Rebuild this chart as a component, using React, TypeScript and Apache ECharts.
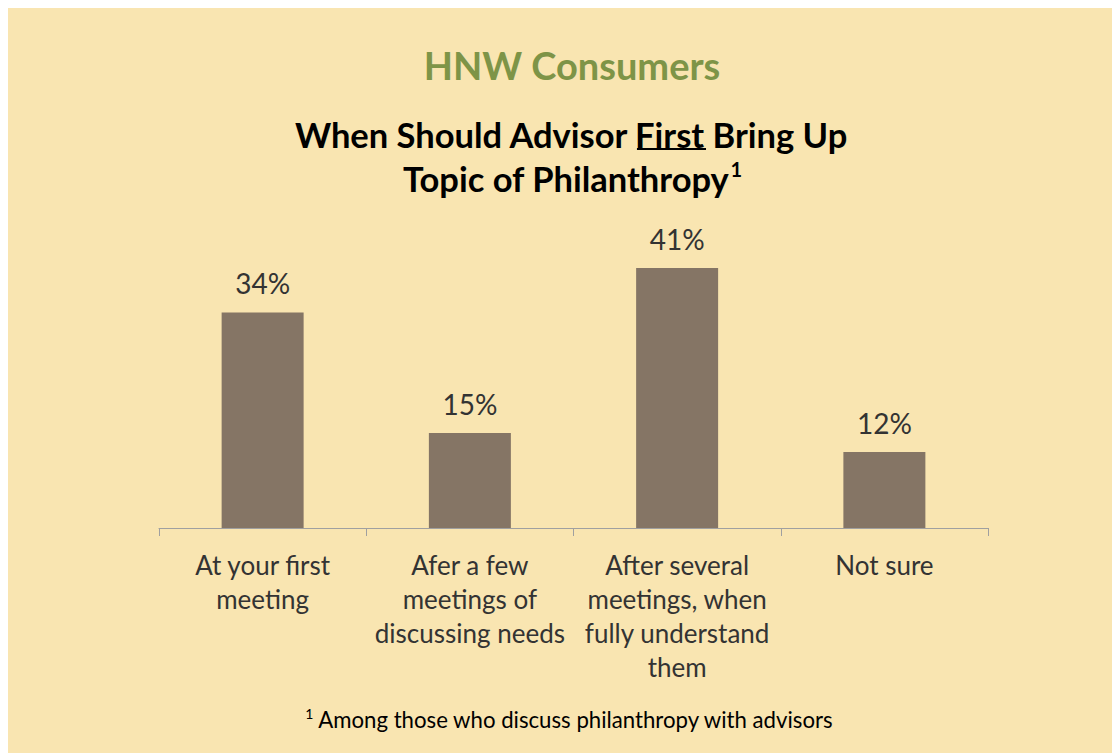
import React, { useEffect, useRef } from "react";
import * as echarts from "echarts";

const categories = [
  "At your first\nmeeting",
  "Afer a few\nmeetings of\ndiscussing needs",
  "After several\nmeetings, when\nfully understand\nthem",
  "Not sure",
];
const values = [34, 15, 41, 12];

const TITLE = "HNW Consumers";
const SUB1_A = "When Should Advisor ";
const SUB1_B = "First";
const SUB1_C = " Bring Up";
const SUB2 = "Topic of Philanthropy";
const SUP = "1";
const FOOT = " Among those who discuss philanthropy with advisors";

const FONT = "Lato";
const BG = "#F9E5B1";
const TXT = "#333333";

function measure(text: string, size: number, weight: string) {
  const c = document.createElement("canvas").getContext("2d")!;
  c.font = `${weight} ${size}px ${FONT}`;
  return c.measureText(text).width;
}

export default function App() {
  const ref = useRef<HTMLDivElement>(null);
  useEffect(() => {
    const chart = echarts.init(ref.current!, null, { renderer: "svg" });
    const cx = 564;
    const subSize = 34.5;
    const wA = measure(SUB1_A, subSize, "bold");
    const wB = measure(SUB1_B, subSize, "bold");
    const wC = measure(SUB1_C, subSize, "bold");
    const line1Start = cx - (wA + wB + wC) / 2;
    const supSize = 20;
    const w2 = measure(SUB2, subSize, "bold");
    const wSup = measure(SUP, supSize, "bold");
    const line2Start = cx - (w2 + wSup) / 2;
    const footSize = 22.2;
    const footSup = 14;
    const wF = measure(FOOT, footSize, "normal");
    const wFs = measure(SUP, footSup, "normal");
    const footStart = 562 - (wF + wFs) / 2;

    chart.setOption({
      animation: false,
      backgroundColor: BG,
      grid: { left: 151, right: 124, top: 203, bottom: 225 },
      xAxis: {
        type: "category",
        data: categories,
        axisLine: { lineStyle: { color: "#A0A0A0", width: 1 } },
        axisTick: { show: true, length: 8, lineStyle: { color: "#A0A0A0" } },
        axisLabel: {
          interval: 0,
          fontFamily: FONT,
          fontSize: 26,
          lineHeight: 34,
          margin: 20,
          color: TXT,
        },
      },
      yAxis: { type: "value", min: 0, max: 50, show: false, splitLine: { show: false } },
      series: [
        {
          type: "bar",
          data: values,
          barWidth: 82,
          itemStyle: { color: "#857565" },
          label: {
            show: true,
            position: "top",
            distance: 15,
            formatter: "{c}%",
            fontFamily: FONT,
            fontSize: 28,
            color: TXT,
          },
        },
      ],
      graphic: [
        {
          type: "text",
          style: {
            text: TITLE,
            x: cx,
            y: 57,
            align: "center",
            verticalAlign: "middle",
            fontFamily: FONT,
            fontWeight: "bold",
            fontSize: 38,
            fill: "#7E9447",
          },
        },
        {
          type: "text",
          style: {
            text: SUB1_A + SUB1_B + SUB1_C,
            x: line1Start,
            y: 126,
            align: "left",
            verticalAlign: "middle",
            fontFamily: FONT,
            fontWeight: "bold",
            fontSize: subSize,
            fill: "#000000",
          },
        },
        {
          type: "line",
          shape: { x1: line1Start + wA, y1: 141, x2: line1Start + wA + wB, y2: 141 },
          style: { stroke: "#000000", lineWidth: 2 },
        },
        {
          type: "text",
          style: {
            text: SUB2,
            x: line2Start,
            y: 170,
            align: "left",
            verticalAlign: "middle",
            fontFamily: FONT,
            fontWeight: "bold",
            fontSize: subSize,
            fill: "#000000",
          },
        },
        {
          type: "text",
          style: {
            text: SUP,
            x: line2Start + w2 + 1,
            y: 161,
            align: "left",
            verticalAlign: "middle",
            fontFamily: FONT,
            fontWeight: "bold",
            fontSize: supSize,
            fill: "#000000",
          },
        },
        {
          type: "text",
          style: {
            text: SUP,
            x: footStart,
            y: 705,
            align: "left",
            verticalAlign: "middle",
            fontFamily: FONT,
            fontSize: footSup,
            fill: "#000000",
          },
        },
        {
          type: "text",
          style: {
            text: FOOT,
            x: footStart + wFs,
            y: 711,
            align: "left",
            verticalAlign: "middle",
            fontFamily: FONT,
            fontSize: footSize,
            fill: "#000000",
          },
        },
      ],
    });
    return () => chart.dispose();
  }, []);
  return (
    <div
      ref={ref}
      style={{ position: "fixed", left: 8, top: 8, width: 1104, height: 745 }}
    />
  );
}
